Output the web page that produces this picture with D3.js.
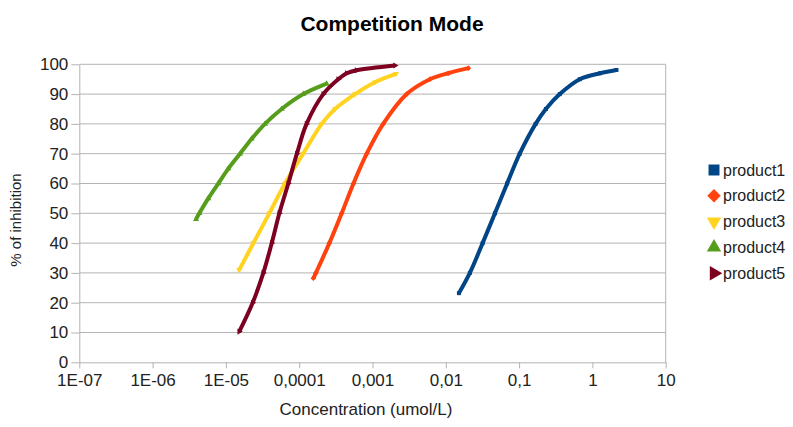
<!DOCTYPE html>
<html lang="en">
  <head>
    <meta charset="utf-8">
    <title>Competition Mode</title>
    <style>
      body { margin: 0; background: white; }
      svg { font-family: "Liberation Sans", Arial, sans-serif; }
    </style>
    <script src="https://cdn.jsdelivr.net/npm/d3@7"></script>
  </head>
  <body>
    <svg id="chart" width="793" height="427"></svg>
    <script>
      // values: concentration (umol/L) and % of inhibition
      var names = ["product1", "product2", "product3", "product4", "product5"];
      var colors = ["#004586", "#ff420e", "#ffd320", "#579d1c", "#7e0021"];

      var conc1 = [0.0151, 0.0213, 0.0318, 0.0468, 0.0687, 0.102, 0.168, 0.232, 0.359, 0.673, 1.27, 2.13];
      var inh1  = [23.2, 30, 40, 50, 60, 70, 80, 85, 90, 95, 97, 98.1];

      var conc2 = [0.000156, 0.000169, 0.000258, 0.00038, 0.00055, 0.000834, 0.0014, 0.00293, 0.00608, 0.0108, 0.0203];
      var inh2  = [28.2, 30, 40, 50, 60, 70, 80, 90, 95, 97, 98.7];

      var conc3 = [1.52e-5, 2.37e-5, 3.91e-5, 6.4e-5, 0.000113, 0.000203, 0.000308, 0.000577, 0.00108, 0.00209];
      var inh3  = [31, 40, 50, 60, 70, 80, 85, 90, 94, 96.8];

      var conc4 = [3.91e-6, 4.34e-6, 5.75e-6, 7.87e-6, 1.08e-5, 1.56e-5, 2.25e-5, 3.41e-5, 5.77e-5, 0.000114, 0.000237];
      var inh4  = [48, 50, 55, 60, 65, 70, 75, 80, 85, 90, 93.5];

      var conc5 = [1.52e-5, 2.32e-5, 3.24e-5, 4.22e-5, 5.36e-5, 7.1e-5, 9.3e-5, 0.000126, 0.000213, 0.000341, 0.000445, 0.000608, 0.00203];
      var inh5  = [10.3, 20, 30, 40, 50, 60, 70, 80, 90, 95, 97, 98, 99.6];

      var xTicks = [1e-7, 1e-6, 1e-5, 1e-4, 1e-3, 1e-2, 1e-1, 1, 10];
      var xTickLabels = ["1E-07", "1E-06", "1E-05", "0,0001", "0,001", "0,01", "0,1", "1", "10"];
      var yTicks = [0, 10, 20, 30, 40, 50, 60, 70, 80, 90, 100];

      (function () {
        var series = [
          {conc: conc1, inh: inh1},
          {conc: conc2, inh: inh2},
          {conc: conc3, inh: inh3},
          {conc: conc4, inh: inh4},
          {conc: conc5, inh: inh5}
        ];
        var symbols = [d3.symbolSquare, d3.symbolSquare, d3.symbolTriangle, d3.symbolTriangle, d3.symbolTriangle];
        var rotations = [0, 45, 180, 0, 90];

        var svg = d3.select("#chart");
        var left = 79.3, right = 665.7, plotTop = 64.3, bottom = 362.3;

        var x = d3.scaleLog().domain([1e-7, 10]).range([left, right]);
        var y = d3.scaleLinear().domain([0, 100]).range([bottom, plotTop]);

        // horizontal grid
        svg.append("g").selectAll("line").data(yTicks.slice(1)).enter().append("line")
          .attr("x1", left).attr("x2", right)
          .attr("y1", function(d) { return y(d); }).attr("y2", function(d) { return y(d); })
          .style("stroke", "#b3b3b3").style("stroke-width", 1);

        // right border
        svg.append("line").attr("x1", right).attr("x2", right).attr("y1", plotTop).attr("y2", bottom)
          .style("stroke", "#b3b3b3");

        var xAxis = svg.append("g").attr("transform", "translate(0," + bottom + ")")
          .call(d3.axisBottom(x).tickValues(xTicks)
            .tickFormat(function(d, i) { return xTickLabels[i]; })
            .tickSizeInner(6).tickSizeOuter(0).tickPadding(6));
        var yAxis = svg.append("g").attr("transform", "translate(" + left + ",0)")
          .call(d3.axisLeft(y).tickValues(yTicks).tickSizeInner(8).tickSizeOuter(0).tickPadding(3));

        [xAxis, yAxis].forEach(function(a) {
          a.select(".domain").style("stroke", "#b3b3b3");
          a.selectAll(".tick line").style("stroke", "#b3b3b3");
          a.selectAll(".tick text").style("font-size", "17px").style("fill", "#222")
            .style("font-family", "Liberation Sans, Arial, sans-serif");
        });

        var line = d3.line()
          .x(function(d) { return x(d[0]); })
          .y(function(d) { return y(d[1]); })
          .curve(d3.curveCatmullRom.alpha(0.5));

        series.forEach(function(s, i) {
          var pts = s.conc.map(function(c, j) { return [c, s.inh[j]]; });
          svg.append("path").datum(pts).attr("d", line)
            .style("fill", "none").style("stroke", colors[i]).style("stroke-width", 4);
          svg.append("g").selectAll("path").data(pts).enter().append("path")
            .attr("d", d3.symbol().type(symbols[i]).size(16))
            .attr("transform", function(d) {
              return "translate(" + x(d[0]) + "," + y(d[1]) + ") rotate(" + rotations[i] + ")";
            })
            .style("fill", colors[i]);
        });

        // titles
        svg.append("text").attr("x", 392).attr("y", 31).attr("text-anchor", "middle")
          .style("font-size", "21px").style("font-weight", "bold").style("fill", "#000")
          .text("Competition Mode");
        svg.append("text").attr("x", 366).attr("y", 415).attr("text-anchor", "middle")
          .style("font-size", "17px").style("fill", "#222")
          .text("Concentration (umol/L)");
        svg.append("text").attr("transform", "translate(21,220) rotate(-90)").attr("text-anchor", "middle")
          .style("font-size", "15px").style("fill", "#222")
          .text("% of inhibition");

        // legend
        var legend = svg.append("g").selectAll("g").data(names).enter().append("g")
          .attr("transform", function(d, i) { return "translate(714," + (170 + i * 25.8) + ")"; });
        legend.append("path")
          .attr("d", function(d, i) { return d3.symbol().type(symbols[i]).size(i == 0 ? 120 : 90)(); })
          .attr("transform", function(d, i) { return "rotate(" + rotations[i] + ")"; })
          .style("fill", function(d, i) { return colors[i]; });
        legend.append("text").attr("x", 9).attr("dy", "0.35em")
          .style("font-size", "16px").style("fill", "#222")
          .text(function(d) { return d; });
      }());
    </script>
  </body>
</html>
